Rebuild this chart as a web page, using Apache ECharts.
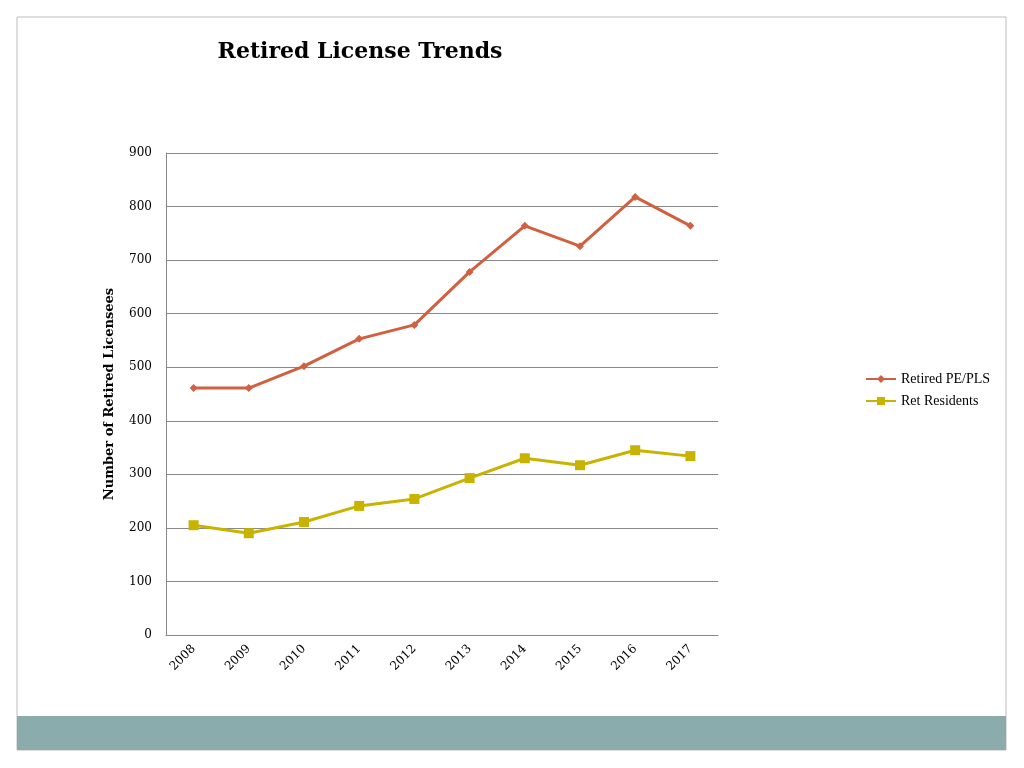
<!DOCTYPE html>
<html><head><meta charset="utf-8">
<script src="https://cdn.jsdelivr.net/npm/echarts@6/dist/echarts.min.js"></script>
<style>html,body{margin:0;padding:0;background:#fff}#c{width:1024px;height:768px}</style>
</head><body><div id="c"></div>
<script>
const years=['2008','2009','2010','2011','2012','2013','2014','2015','2016','2017'];
const retiredPE=[461,461,502,553,579,678,764,726,818,764];
const retResidents=[205,190,211,241,254,293,330,317,345,334];
const yTicks=[0,900,100];
const ff='"DejaVu Serif",serif';
const ff2='"Liberation Serif",serif';
const chart=echarts.init(document.getElementById('c'));
chart.setOption({
  animation:false,
  graphic:[
    {type:'rect',shape:{x:17,y:17,width:989,height:733},style:{fill:'none',stroke:'#bcbcbc',lineWidth:1}},
    {type:'rect',shape:{x:17,y:716,width:989,height:34},style:{fill:'#8aacac'}}
  ],
  title:{text:'Retired License Trends',left:355,top:36,textAlign:'center',
    textStyle:{fontFamily:ff,fontSize:22,fontWeight:'bold',color:'#000'}},
  legend:{orient:'vertical',left:860,top:367,itemGap:8,itemWidth:30,itemHeight:10,
    textStyle:{fontFamily:ff2,fontSize:14,color:'#000'},
    data:['Retired PE/PLS','Ret Residents']},
  grid:{left:166,right:306,top:153,bottom:133},
  xAxis:{type:'category',data:years,boundaryGap:true,
    axisLine:{lineStyle:{color:'#888'}},axisTick:{show:false},
    axisLabel:{rotate:45,fontFamily:ff,fontSize:12,color:'#000',margin:12}},
  yAxis:{type:'value',min:yTicks[0],max:yTicks[1],interval:yTicks[2],
    name:'Number of Retired Licensees',nameLocation:'middle',nameGap:50,
    nameTextStyle:{fontFamily:ff,fontSize:13,fontWeight:'bold',color:'#000'},
    axisLine:{show:true,lineStyle:{color:'#888'}},
    axisLabel:{fontFamily:ff,fontSize:12,color:'#000',margin:14},
    splitLine:{lineStyle:{color:'#888'}}},
  series:[
    {name:'Retired PE/PLS',type:'line',data:retiredPE,symbol:'diamond',symbolSize:8,
     itemStyle:{color:'#d0603f'},lineStyle:{width:3,color:'#d0603f'}},
    {name:'Ret Residents',type:'line',data:retResidents,symbol:'rect',symbolSize:10,
     itemStyle:{color:'#c8b400'},lineStyle:{width:3,color:'#c8b400'}}
  ]
});
</script></body></html>
